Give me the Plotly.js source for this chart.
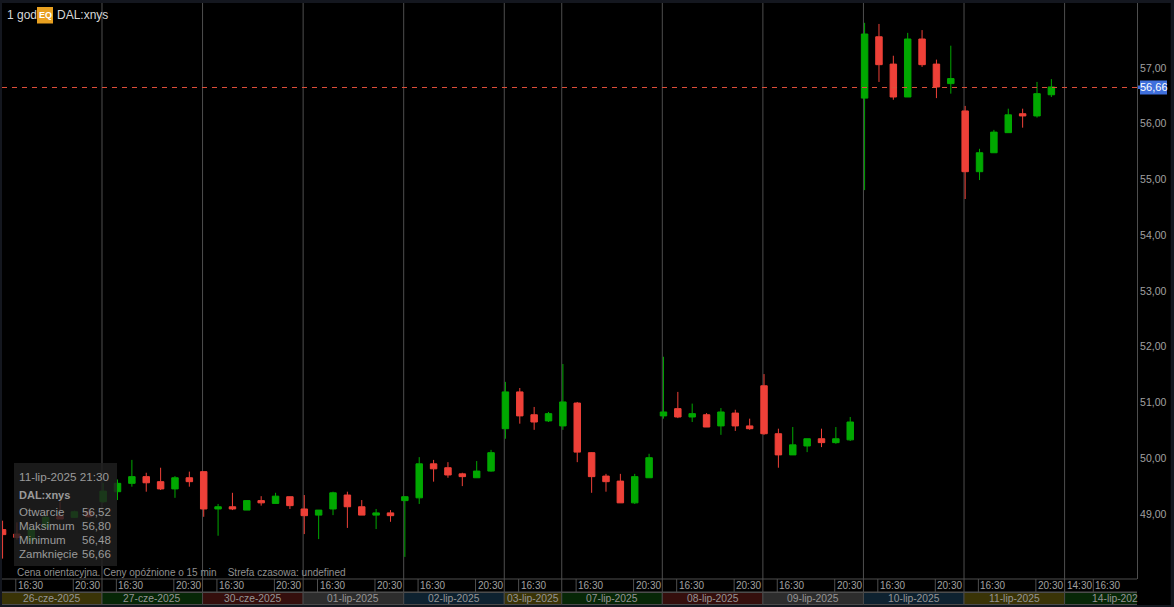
<!DOCTYPE html>
<html><head><meta charset="utf-8">
<script src="https://cdn.plot.ly/plotly-3.0.1.min.js"></script>
<style>html,body{margin:0;padding:0;background:#14171f;overflow:hidden}#c{width:1174px;height:607px}</style>
</head><body><div id="c"></div>
<script>
var opens=[48.72,48.64,48.52,48.76,48.97,48.94,49.04,49.22,49.40,49.55,49.67,49.58,49.45,49.65,49.76,49.09,49.13,49.07,49.24,49.19,49.31,49.09,48.98,49.09,49.34,49.13,48.98,49.02,49.24,49.29,49.90,49.83,49.72,49.65,49.77,50.53,51.19,50.78,50.67,50.58,50.99,50.10,49.68,49.59,49.20,49.65,50.76,50.89,50.74,50.78,50.58,50.81,50.58,51.30,50.44,50.06,50.22,50.35,50.28,50.33,56.46,57.56,57.07,56.48,57.52,57.07,56.72,56.23,55.14,55.48,55.84,56.18,56.14,56.52];
var highs=[48.88,48.85,48.76,48.97,49.22,49.06,49.11,49.56,49.62,49.97,49.74,49.83,49.68,49.76,49.76,49.18,49.38,49.25,49.32,49.38,49.31,49.34,49.07,49.40,49.40,49.25,49.09,49.07,49.32,50.02,49.97,49.93,49.74,49.95,50.15,51.37,51.26,50.92,50.83,51.69,51.01,50.11,49.72,49.72,49.72,50.08,51.82,51.19,50.98,50.81,50.90,50.87,50.71,51.51,50.53,50.56,50.35,50.53,50.56,50.74,57.81,57.79,57.22,57.63,57.68,57.15,57.40,56.32,55.55,55.89,56.27,56.27,56.75,56.80];
var lows=[48.20,48.54,48.45,48.75,48.91,48.93,48.94,49.20,49.25,49.49,49.40,49.43,49.29,49.49,48.95,48.61,49.07,49.07,49.15,49.18,49.09,48.64,48.55,48.98,48.75,48.98,48.73,48.86,48.23,49.18,49.58,49.65,49.50,49.65,49.76,50.35,50.62,50.51,50.65,50.51,49.93,49.38,49.40,49.20,49.18,49.65,50.71,50.72,50.65,50.56,50.42,50.49,50.51,50.42,49.83,50.06,50.11,50.20,50.26,50.31,54.81,56.75,56.43,56.48,57.02,56.46,56.54,54.65,54.99,55.48,55.84,55.93,56.11,56.48];
var closes=[48.63,48.58,48.73,48.94,48.91,49.04,48.95,49.41,49.55,49.67,49.56,49.45,49.65,49.58,49.09,49.13,49.09,49.24,49.20,49.32,49.15,48.97,49.07,49.38,49.13,48.98,49.02,48.97,49.31,49.90,49.81,49.70,49.67,49.77,50.10,51.19,50.76,50.65,50.80,51.01,50.11,49.67,49.58,49.20,49.67,50.01,50.83,50.74,50.80,50.56,50.83,50.58,50.53,50.44,50.06,50.24,50.35,50.28,50.35,50.65,57.61,57.06,56.48,57.52,57.06,56.66,56.81,55.14,55.48,55.85,56.16,56.14,56.54,56.66];

var dayLabels=["26-cze-2025","27-cze-2025","30-cze-2025","01-lip-2025","02-lip-2025","03-lip-2025","07-lip-2025","08-lip-2025","09-lip-2025","10-lip-2025","11-lip-2025","14-lip-202"];
var dayStarts=[0,7,14,21,28,35,39,46,53,60,67,74];
var dayEnds=[7,14,21,28,35,39,46,53,60,67,74,82];
var dayFills=["#3a3407","#072707","#350f0d","#2d2d2d","#0e2230","#3a3407","#072707","#350f0d","#2d2d2d","#0e2230","#3a3407","#072707"];
var timeTicks=[1,5,8,12,15,19,22,26,29,33,36,40,44,47,51,54,58,61,65,68,72,74,76];
var timeLabels=["16:30","20:30","16:30","20:30","16:30","20:30","16:30","20:30","16:30","20:30","16:30","16:30","20:30","16:30","20:30","16:30","20:30","16:30","20:30","16:30","20:30","14:30","16:30"];
var priceTicks=[49,50,51,52,53,54,55,56,57];
var lastPrice=56.66;
var tooltipRows=[["Otwarcie","56,52"],["Maksimum","56,80"],["Minimum","56,48"],["Zamknięcie","56,66"]];

var xs=opens.map(function(_,i){return i;});
var GREEN="#00a800",RED="#ee4038",FONT="Liberation Sans, Arial, sans-serif";
var TOP=3,BOT=579;
function py(p){return (BOT-p)/(BOT-TOP);}
function fx(p){return (p-2)/1135;}
var shapes=[],ann=[];
function lineP(x0,x1,p0,p1,col,w,layer){shapes.push({type:"line",xref:"x",yref:"paper",x0:x0,x1:x1,y0:py(p1),y1:py(p0),line:{color:col,width:w||1},layer:layer||"above"});}
function boxP(p0,p1,q0,q1,fill,layer){shapes.push({type:"rect",xref:"paper",yref:"paper",x0:fx(p0),x1:fx(p1),y0:py(q1),y1:py(q0),fillcolor:fill,line:{width:0},layer:layer||"above"});}
function ppx(xp,yp,text,size,col,anchor){ann.push({xref:"paper",yref:"paper",x:fx(xp),y:py(yp),text:text,showarrow:false,xanchor:anchor||"left",yanchor:"middle",font:{family:FONT,size:size,color:col},borderpad:0});}
var OFF=-0.08;
boxP(2,1170.7,3,605,"#000000","below");
dayStarts.forEach(function(s,i){
  shapes.push({type:"rect",xref:"x",yref:"paper",x0:s+OFF,x1:dayEnds[i]+OFF,y0:py(604.5),y1:py(592.5),fillcolor:dayFills[i],line:{color:"#4a4a4a",width:1},layer:"below"});
  if(i>0) lineP(s+OFF,s+OFF,TOP,592,"#4e4e4e",1,"below");
  var c=(s+dayEnds[i]+2*OFF)/2;
  ann.push({xref:"x",yref:"paper",x:i==11?75.7:c,y:py(598.5),text:dayLabels[i],showarrow:false,xanchor:i==11?"left":"center",yanchor:"middle",font:{family:FONT,size:10.3,color:"#959595"}});
});
timeTicks.forEach(function(t,i){
  lineP(t+OFF,t+OFF,579,592,"#4e4e4e",1,"below");
  ann.push({xref:"x",yref:"paper",x:t+OFF,xshift:0,y:py(585.5),text:timeLabels[i],showarrow:false,xanchor:"left",yanchor:"middle",font:{family:FONT,size:10,color:"#a0a0a0"}});
});
lineP(-1,80,579,579,"#4e4e4e",1,"below");
lineP(-1,80,592,592,"#4e4e4e",1,"below");
var dashY=lastPrice-0.0095;
shapes.push({type:"line",xref:"paper",yref:"y",x0:0,x1:1,y0:dashY,y1:dashY,line:{color:"#e0503c",width:1,dash:"5px,5px"},layer:"above"});
boxP(1138,1141,85.5,89,"#3f6fdc");
boxP(1140,1167,80.5,94.5,"#3f6fdc");
ppx(1153.5,87.5,"56,66",11,"#ffffff","center");
boxP(14,117,463,566,"rgba(32,32,32,0.82)");
ppx(18,476,"11-lip-2025 21:30",11.7,"#9a9a9a");
ppx(18,495,"<b>DAL:xnys</b>",11,"#9a9a9a");
tooltipRows.forEach(function(r,i){var y=512+14*i;ppx(18,y,r[0],11.5,"#9a9a9a");ppx(111.5,y,r[1],11.5,"#9a9a9a","right");});
ppx(16,572.5,"Cena orientacyjna. Ceny opóźnione o 15 min&nbsp;&nbsp;&nbsp;&nbsp;Strefa czasowa: undefined",10,"#8f8f8f");
ppx(6,15,"1 god",12,"#d8d8d8");
boxP(37,53,7,23.5,"#e8a020");
ppx(45,15,"<b>EQ</b>",9,"#ffffff","center");
ppx(56,15,"DAL:xnys",12,"#d8d8d8");

var trace={type:"candlestick",x:xs,open:opens,high:highs,low:lows,close:closes,whiskerwidth:0,
  increasing:{line:{color:GREEN,width:1},fillcolor:GREEN},decreasing:{line:{color:RED,width:1},fillcolor:RED},hoverinfo:"skip"};
var layout={width:1174,height:607,margin:{l:2,r:37,t:3,b:28,pad:0},paper_bgcolor:"#14171f",plot_bgcolor:"#000000",
  separators:", ",showlegend:false,boxgap:0.55,boxgroupgap:0,shapes:shapes,annotations:ann,font:{family:FONT},
  xaxis:{type:"linear",range:[-0.04,78.96],showgrid:false,zeroline:false,showticklabels:false,ticks:"",showline:false,rangeslider:{visible:false},automargin:false},
  yaxis:{side:"right",range:[47.834,58.166],tickvals:priceTicks,ticktext:priceTicks.map(function(v){return v.toFixed(2).replace(".",",");}),showgrid:false,zeroline:false,ticks:"",showline:true,linecolor:"#4e4e4e",linewidth:1,tickfont:{family:FONT,size:10.5,color:"#a0a0a0"},automargin:false}};
Plotly.newPlot("c",[trace],layout,{displayModeBar:false,staticPlot:true});
</script></body></html>
